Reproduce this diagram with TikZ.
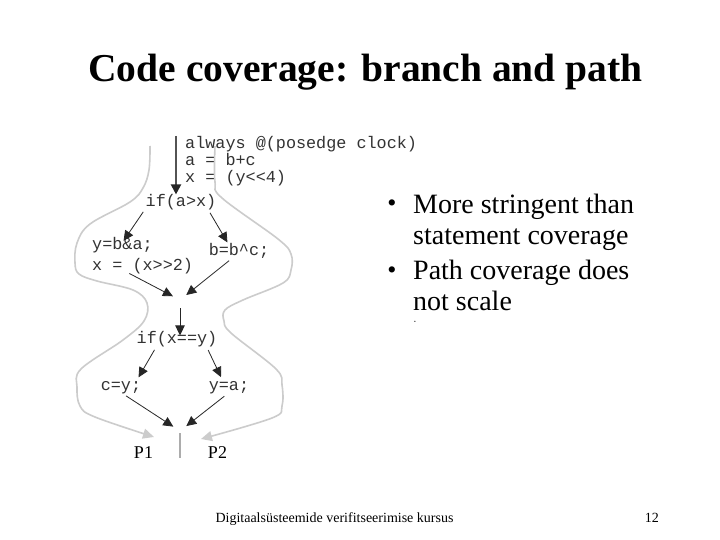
\documentclass[tikz,border=0pt]{standalone}
\usepackage{fontspec}
\setmainfont{Liberation Serif}
\newfontfamily\codefont{Liberation Mono}
\usepackage{tikz}
\usetikzlibrary{arrows.meta}
\tikzset{
    code/.style={font=\codefont\fontsize{16.8}{17}\selectfont, text=black!80, inner sep=0pt, text height=1.6ex, text depth=.3ex}, % 代码行
    flow/.style={-{Triangle[length=10pt,width=9.5pt]}, black!85, line width=0.8pt}, % 控制流箭头
    route/.style={gray!40, line width=1.6pt, -{Triangle[length=11pt,width=10pt]}}, % 路径曲线
    entry/.style={gray!65!black, line width=2pt, shorten >=5pt, -{Triangle[length=10pt,width=10pt,color=black!85]}},
    label/.style={font=\fontsize{18}{18}\selectfont, inner sep=0pt}
}
\begin{document}
\begin{tikzpicture}[x=1pt, y=-1pt]
    \useasboundingbox[fill=white] (0,0) rectangle (720,540);

    \node[font=\bfseries\fontsize{39.5}{40}\selectfont, inner sep=0pt, anchor=base] (title) at (365.5,82) {Code coverage: branch and path};

    % 代码
    \node[code, anchor=west] (always) at (185,146) {always @(posedge clock)};
    \node[code, anchor=west] (abc) at (185,163) {a = b+c};
    \node[code, anchor=west] (xy) at (185,180) {x = (y<<4)};
    \node[code] (ifa) at (181,204) {if(a>x)};
    \node[code, anchor=west] (yba) at (92,247) {y=b\&a;};
    \node[code, anchor=west] (xsh) at (92,268) {x = (x>>2)};
    \node[code] (bbc) at (239,253) {b=b\char`\^c;};
    \node[code] (ifxy) at (177,341) {if(x==y)};
    \node[code] (cy) at (121,388) {c=y;};
    \node[code] (ya) at (229,388) {y=a;};
    \node[label, anchor=base] (p1) at (143.5,458) {P1};
    \node[label, anchor=base] (p2) at (217.5,458) {P2};

    \coordinate (in) at (176,136);
    \coordinate (m1) at (180,300);
    \coordinate (m2) at (180,431);
    \coordinate (out) at (180,458);

    % 两条路径
    \draw[route] plot[smooth, tension=0.6] coordinates {(150,146) (149,170) (143,188) (130,202) (90,224) (77,243) (75,263) (79,274) (97,281) (133,290) (147,303) (144,321) (123,340) (81,369) (77,387) (80,406) (95,417) (154,437)};
    \draw[route] plot[smooth, tension=0.6] coordinates {(215,146) (215,182) (222,198) (278,239) (291,254) (291,270) (283,283) (243,300) (225,310) (224,321) (231,333) (276,369) (282,385) (282,406) (272,418) (201,439)};

    % 控制流
    \draw[entry] (in) -- (in |- ifa.north);
    \draw[flow, shorten <=4pt, shorten >=2pt] (ifa.south west) -- (yba.north);
    \draw[flow, shorten <=5pt, shorten >=7pt] ([xshift=-9pt]ifa.south east) -- ([xshift=-8pt]bbc.north);
    \draw[flow, shorten <=2pt, shorten >=8pt] ([xshift=-15pt]xsh.south) -- (m1);
    \draw[flow, shorten <=5pt, shorten >=8pt] ([xshift=-6pt]bbc.south) -- (m1);
    \draw[flow, shorten <=8pt, shorten >=1pt] (m1) -- (m1 |- ifxy.north);
    \draw[flow, shorten <=5pt, shorten >=7pt] ([xshift=-20pt]ifxy.south) -- ([xshift=14pt]cy.north);
    \draw[flow, shorten <=5pt, shorten >=7pt] ([xshift=29pt]ifxy.south) -- ([xshift=-5pt]ya.north);
    \draw[flow, shorten <=6pt, shorten >=8pt] (cy.south) -- (m2);
    \draw[flow, shorten <=6pt, shorten >=8pt] (ya.south) -- (m2);
    \draw[gray!65, line width=1.2pt, shorten <=2pt] (m2) -- (out);

    % 要点
    \begin{scope}[font=\fontsize{28}{30.5}\selectfont]
        \node[inner sep=0pt, font=\fontsize{26}{26}\selectfont] (d1) at (392,206) {•};
        \node[inner sep=0pt, align=left, anchor=base west] (b1) at (413,244) {More stringent than\\statement coverage};
        \node[inner sep=0pt, font=\fontsize{26}{26}\selectfont] (d2) at (392,273) {•};
        \node[inner sep=0pt, align=left, anchor=base west] (b2) at (413,310) {Path coverage does\\not scale};
    \end{scope}
    \node[inner sep=0pt, font=\fontsize{5}{5}\selectfont] (d3) at (415,322) {•};

    \node[inner sep=0pt, anchor=base, font=\fontsize{14}{14}\selectfont] (foot) at (334.5,522) {Digitaalsüsteemide verifitseerimise kursus};
    \node[inner sep=0pt, anchor=base east, font=\fontsize{14}{14}\selectfont] (page) at (659,522) {12};
\end{tikzpicture}
\end{document}
